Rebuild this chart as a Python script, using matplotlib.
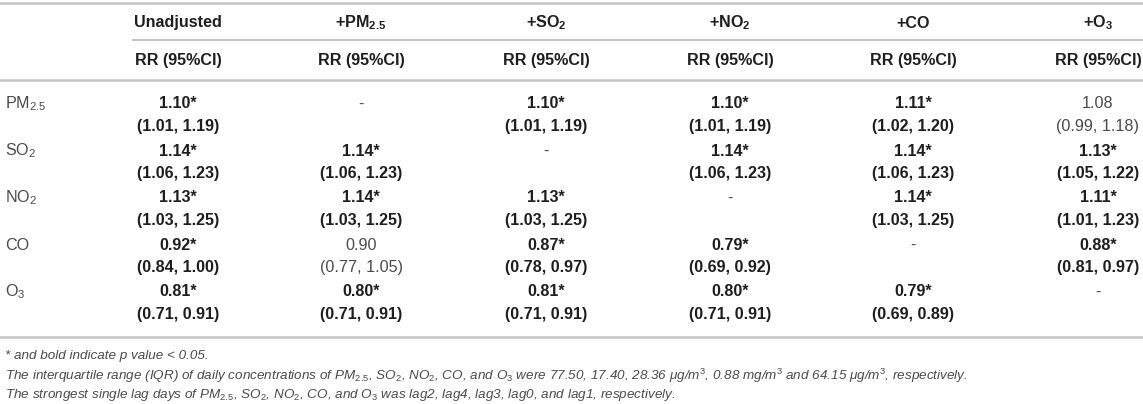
import matplotlib
matplotlib.use("Agg")
import matplotlib.pyplot as plt

plt.rcParams['font.family'] = ['Liberation Sans', 'DejaVu Sans']
plt.rcParams['mathtext.fontset'] = 'custom'
plt.rcParams['mathtext.rm'] = 'Liberation Sans'
plt.rcParams['mathtext.bf'] = 'Liberation Sans:bold'
plt.rcParams['mathtext.it'] = 'Liberation Sans:italic'

# data
pollutants = ['PM$_{\\mathrm{2.5}}$', 'SO$_{\\mathrm{2}}$', 'NO$_{\\mathrm{2}}$', 'CO', 'O$_{\\mathrm{3}}$']
models = ['Unadjusted', '+PM$_{\\mathbf{2.5}}$', '+SO$_{\\mathbf{2}}$', '+NO$_{\\mathbf{2}}$', '+CO', '+O$_{\\mathbf{3}}$']
# None = same pollutant (shown as '-')
rr = [
    [1.10, None, 1.10, 1.10, 1.11, 1.08],
    [1.14, 1.14, None, 1.14, 1.14, 1.13],
    [1.13, 1.14, 1.13, None, 1.14, 1.11],
    [0.92, 0.90, 0.87, 0.79, None, 0.88],
    [0.81, 0.80, 0.81, 0.80, 0.79, None],
]
lo = [
    [1.01, None, 1.01, 1.01, 1.02, 0.99],
    [1.06, 1.06, None, 1.06, 1.06, 1.05],
    [1.03, 1.03, 1.03, None, 1.03, 1.01],
    [0.84, 0.77, 0.78, 0.69, None, 0.81],
    [0.71, 0.71, 0.71, 0.71, 0.69, None],
]
hi = [
    [1.19, None, 1.19, 1.19, 1.20, 1.18],
    [1.23, 1.23, None, 1.23, 1.23, 1.22],
    [1.25, 1.25, 1.25, None, 1.25, 1.23],
    [1.00, 1.05, 0.97, 0.92, None, 0.97],
    [0.91, 0.91, 0.91, 0.91, 0.89, None],
]
sig = [
    [1, 0, 1, 1, 1, 0],
    [1, 1, 0, 1, 1, 1],
    [1, 1, 1, 0, 1, 1],
    [1, 0, 1, 1, 0, 1],
    [1, 1, 1, 1, 1, 0],
]
notes = [
    '* and bold indicate p value < 0.05.',
    'The interquartile range (IQR) of daily concentrations of PM$_{\\mathit{2.5}}$, SO$_{\\mathit{2}}$, NO$_{\\mathit{2}}$, CO, and O$_{\\mathit{3}}$ '
    'were 77.50, 17.40, 28.36 \u03bcg/m$^{\\mathit{3}}$, 0.88 mg/m$^{\\mathit{3}}$ and 64.15 \u03bcg/m$^{\\mathit{3}}$, respectively.',
    'The strongest single lag days of PM$_{\\mathit{2.5}}$, SO$_{\\mathit{2}}$, NO$_{\\mathit{2}}$, CO, and O$_{\\mathit{3}}$ '
    'was lag2, lag4, lag3, lag0, and lag1, respectively.',
]

W, H = 1143, 404
fig = plt.figure(figsize=(W / 100, H / 100), dpi=100)
ax = fig.add_axes([0, 0, 1, 1])
ax.set_xlim(0, W)
ax.set_ylim(H, 0)
ax.axis('off')

dark = '#1e1e1e'
grey = '#4a4a4a'
line_c = '#c4c4c4'
fs = 11.6

col_x = [178, 361, 546, 730, 913, 1098]
row_y = [104, 151, 198, 245, 292]
dy = 22.5

# rules
ax.plot([0, W], [3, 3], color=line_c, lw=1.8)
ax.plot([133, W], [40, 40], color=line_c, lw=1.4)
ax.plot([0, W], [80, 80], color=line_c, lw=1.8)
ax.plot([0, W], [337, 337], color=line_c, lw=1.8)

# header
for x, m in zip(col_x, models):
    ax.text(x, 23, m, ha='center', va='center', fontsize=fs, fontweight='bold', color=dark)
    ax.text(x, 60, 'RR (95%CI)', ha='center', va='center', fontsize=fs, fontweight='bold', color=dark)

# body
for i, (y, p) in enumerate(zip(row_y, pollutants)):
    ax.text(5, y, p, ha='left', va='center', fontsize=fs, color=grey)
    for j, x in enumerate(col_x):
        if rr[i][j] is None:
            ax.text(x, y, '-', ha='center', va='center', fontsize=fs, color=grey)
            continue
        if sig[i][j]:
            kw = dict(fontweight='bold', color=dark)
            est = f'{rr[i][j]:.2f}*'
        else:
            kw = dict(fontweight='normal', color=grey)
            est = f'{rr[i][j]:.2f}'
        ax.text(x, y, est, ha='center', va='center', fontsize=fs, **kw)
        ax.text(x, y + dy, f'({lo[i][j]:.2f}, {hi[i][j]:.2f})', ha='center', va='center', fontsize=fs, **kw)

# footnotes
for k, n in enumerate(notes):
    ax.text(5, 356 + k * 19.5, n, ha='left', va='center', fontsize=9.7, style='italic', color=grey)

fig.savefig('out.png', dpi=100)
